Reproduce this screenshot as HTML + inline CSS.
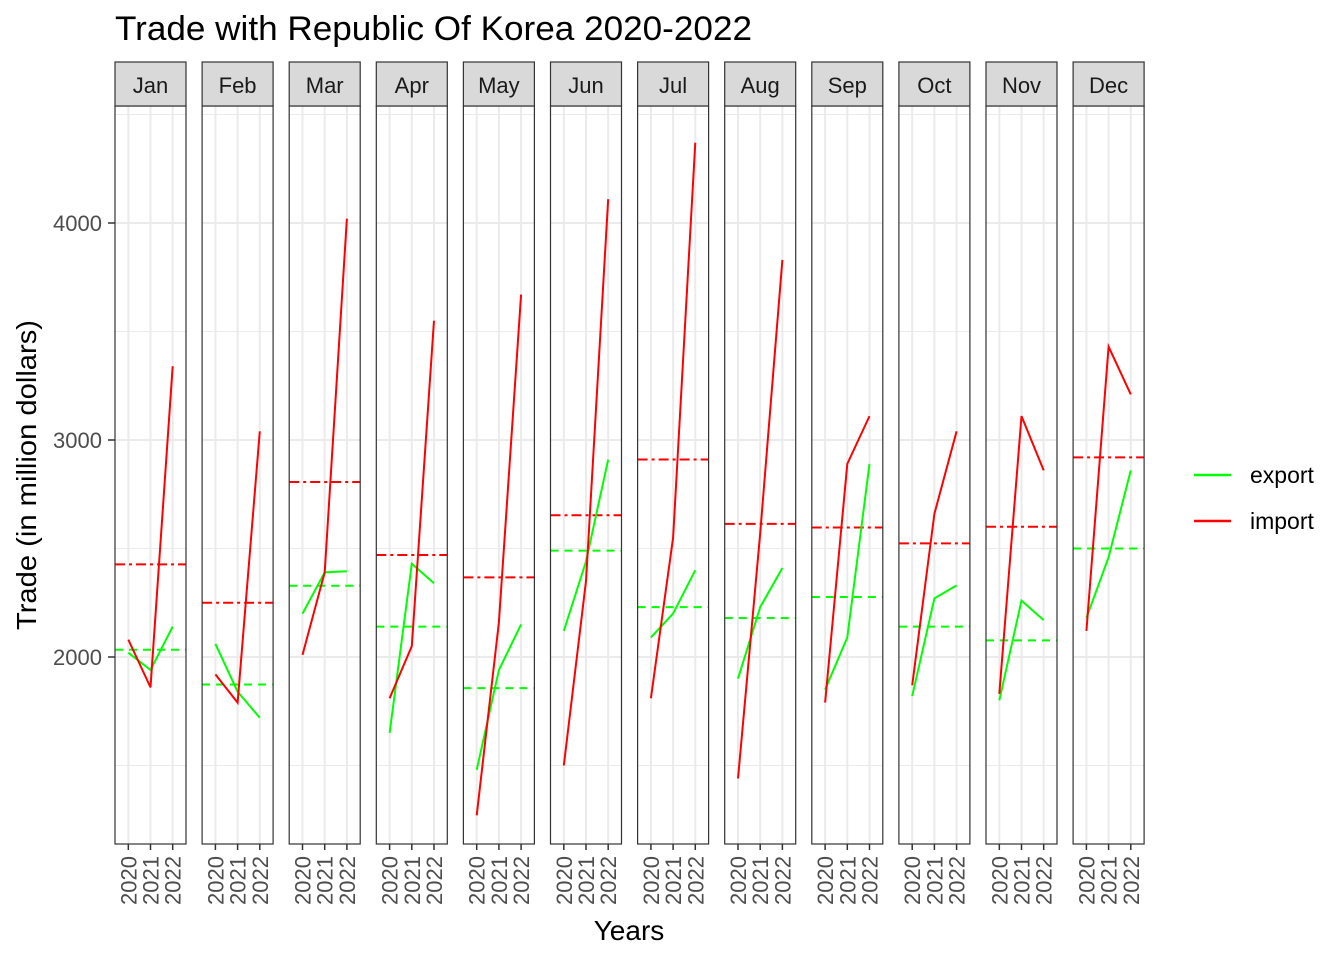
<!DOCTYPE html>
<html><head><meta charset="utf-8"><style>
body{margin:0;background:#fff}
svg text{font-family:"Liberation Sans",Arial,sans-serif}
</style></head><body>
<svg id="chart" width="1344" height="960" viewBox="0 0 1344 960">
<rect width="1344" height="960" fill="#fff"/>
<text x="115" y="40" font-size="34" textLength="637" lengthAdjust="spacingAndGlyphs" fill="#000">Trade with Republic Of Korea 2020-2022</text>
<text transform="translate(36,475) rotate(-90)" text-anchor="middle" font-size="28" textLength="310" lengthAdjust="spacingAndGlyphs">Trade (in million dollars)</text>
<text x="629" y="940" text-anchor="middle" font-size="28">Years</text>
<g id="panels"></g>
<g>
<line x1="1194" y1="475" x2="1231" y2="475" stroke="#00ff00" stroke-width="2.5"/>
<text x="1250" y="483" font-size="23">export</text>
<line x1="1194" y1="521" x2="1231" y2="521" stroke="#ff0000" stroke-width="2.5"/>
<text x="1250" y="529" font-size="23">import</text>
</g>
</svg>
<script>
const months=["Jan","Feb","Mar","Apr","May","Jun","Jul","Aug","Sep","Oct","Nov","Dec"];
const years=[2020,2021,2022];
const exportVals=[[2020,1940,2140],[2060,1840,1720],[2200,2390,2395],[1650,2430,2340],[1480,1940,2150],[2120,2440,2910],[2090,2200,2400],[1900,2230,2410],[1850,2090,2890],[1820,2270,2330],[1800,2260,2170],[2180,2460,2860]];
const importVals=[[2080,1860,3340],[1920,1790,3040],[2010,2390,4020],[1810,2050,3550],[1270,2160,3670],[1500,2350,4110],[1810,2550,4370],[1440,2570,3830],[1790,2890,3110],[1870,2660,3040],[1830,3110,2860],[2120,3430,3210]];
const yTicks=[2000,3000,4000];
const yMinor=[1500,2500,3500,4500];

const NS="http://www.w3.org/2000/svg";
const svgG=document.getElementById('panels');
const pTop=106,pBot=844,pw=71,px0=115,pstep=87.1;
const yS=v=>657-(v-2000)*0.217;
function el(t,a,p){const e=document.createElementNS(NS,t);for(const k in a)e.setAttribute(k,a[k]);(p||svgG).appendChild(e);return e;}
yTicks.forEach(v=>{
  const t=el('text',{x:102,y:yS(v)+8,'text-anchor':'end','font-size':22,fill:'#4d4d4d'});t.textContent=v;
  
  
  el('line',{x1:108,x2:115,y1:yS(v),y2:yS(v),stroke:'#333','stroke-width':1.5});
});
const mean=a=>a.reduce((s,v)=>s+v,0)/a.length;
months.forEach((m,i)=>{
  const L=px0+i*pstep,R=L+pw;
  const xS=yr=>L+(yr-2019.4)/3.2*pw;
  const g=el('g',{});
  
  
  yMinor.forEach(v=>{if(yS(v)>pTop)el('line',{x1:L,x2:R,y1:yS(v),y2:yS(v),stroke:'#ebebeb','stroke-width':1},g)});
  yTicks.forEach(v=>el('line',{x1:L,x2:R,y1:yS(v),y2:yS(v),stroke:'#ebebeb','stroke-width':2},g));
  years.forEach(yr=>{
    el('line',{x1:xS(yr),x2:xS(yr),y1:pTop,y2:pBot,stroke:'#ebebeb','stroke-width':2},g);
    el('line',{x1:xS(yr),x2:xS(yr),y1:pBot,y2:pBot+6,stroke:'#333','stroke-width':1.5},g);
    const t=el('text',{transform:`translate(${xS(yr)+8},${pBot+12}) rotate(-90)`,'text-anchor':'end','font-size':22,fill:'#4d4d4d'},g);
    t.textContent=yr;
    
    
  });
  const me=mean(exportVals[i]),mi=mean(importVals[i]);
  const le=el('line',{x1:L,x2:R,y1:yS(me),y2:yS(me),stroke:'#00ff00','stroke-width':2,'stroke-dasharray':'8,6'},g);
  
  
  const li=el('line',{x1:L,x2:R,y1:yS(mi),y2:yS(mi),stroke:'#ff0000','stroke-width':2,'stroke-dasharray':'10,4,3,4'},g);
  
  
  const pe=el('polyline',{points:years.map((yr,j)=>xS(yr)+','+yS(exportVals[i][j])).join(' '),fill:'none',stroke:'#00ff00','stroke-width':2},g);
  
  
  const pi=el('polyline',{points:years.map((yr,j)=>xS(yr)+','+yS(importVals[i][j])).join(' '),fill:'none',stroke:'#ff0000','stroke-width':2},g);
  
  
  el('rect',{x:L,y:pTop,width:pw,height:pBot-pTop,fill:'none',stroke:'#333','stroke-width':1.2},g);
  el('rect',{x:L,y:62,width:pw,height:44,fill:'#d9d9d9',stroke:'#333','stroke-width':1.2},g);
  const st=el('text',{x:L+pw/2,y:93,'text-anchor':'middle','font-size':22,fill:'#1a1a1a'},g);
  st.textContent=m;
  
  
});
</script>
</body></html>
